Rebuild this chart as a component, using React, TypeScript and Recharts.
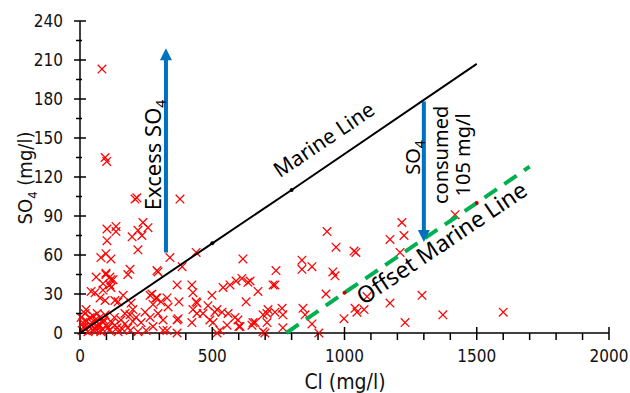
import React from 'react';
import {
  ScatterChart,
  Scatter,
  XAxis,
  YAxis,
  ReferenceLine,
  ReferenceDot,
  Label,
} from 'recharts';

// [Cl, SO4] in mg/l
const samples: [number, number][] = [
  [83, 203], [95, 135], [101, 132], [208, 103], [215, 104], [378, 103],
  [102, 80], [136, 82], [136, 78], [102, 71], [197, 74], [219, 79], [238, 85],
  [257, 81], [234, 75], [219, 64], [79, 58], [98, 61], [117, 57], [340, 58],
  [189, 49], [291, 48], [98, 46], [386, 51], [439, 62],
  [616, 57], [612, 42], [590, 40], [567, 37], [541, 35], [643, 40], [673, 32],
  [499, 29], [427, 31], [439, 24], [367, 37], [272, 30], [291, 27], [329, 27],
  [333, 20], [306, 24], [442, 15], [484, 21], [518, 18], [586, 12], [597, 10],
  [692, 14], [711, 18], [371, 11], [503, 8], [556, 6], [650, 6], [707, 8],
  [61, 43], [98, 45], [117, 41], [181, 45], [295, 47], [42, 32], [57, 31],
  [87, 33], [117, 35], [113, 37], [76, 27], [95, 25], [163, 29], [144, 24],
  [193, 23], [265, 29], [287, 27], [276, 22],
  [19, 15], [38, 12], [57, 10], [11, 8], [68, 5], [87, 8], [106, 4], [132, 6],
  [155, 10], [170, 15], [200, 18], [212, 12], [231, 8], [246, 16], [265, 12],
  [295, 15], [314, 10], [276, 5], [314, 2], [49, 2], [30, 1], [79, 1], [144, 1],
  [181, 4], [219, 1], [250, 2], [42, 6], [4, 12], [23, 18],
  [20, 3], [35, 5], [45, 8], [55, 4], [62, 2], [70, 7], [85, 3], [90, 10],
  [100, 6], [110, 2], [25, 9], [15, 5], [8, 2], [50, 13], [65, 15], [75, 12],
  [95, 14], [120, 8], [130, 12], [140, 4], [160, 3], [170, 7], [190, 2], [200, 9],
  [113, 43], [87, 38], [125, 41], [132, 25], [189, 14],
  [423, 37], [635, 39], [737, 37], [628, 24], [374, 24], [442, 23], [427, 18],
  [465, 15], [510, 16], [537, 16], [560, 15], [662, 8], [707, 15], [737, 16],
  [367, 10], [423, 8], [491, 10], [529, 2], [605, 5], [692, 1], [329, 2],
  [934, 78], [968, 66], [1036, 63], [1043, 62], [1217, 85], [1172, 72],
  [1225, 75], [839, 56], [839, 49], [877, 51], [741, 48], [730, 37], [956, 47],
  [964, 44], [930, 30], [1085, 28], [1172, 23], [1293, 29], [1040, 19],
  [1047, 16], [1074, 18], [998, 11], [1229, 8], [1372, 14], [764, 19], [767, 14],
  [843, 19], [851, 14], [877, 7], [767, 4], [699, 0], [654, 8],
  [1418, 91], [1600, 16], [903, 0], [518, 0], [367, 0], [601, 5], [1210, 62],
];

const marineLine = [
  { x: 0, y: 0 },
  { x: 500, y: 69 },
  { x: 800, y: 110 },
  { x: 1500, y: 207 },
];

const offsetLine = [
  { x: 780, y: 0 },
  { x: 1000, y: 31 },
  { x: 1500, y: 100 },
  { x: 1700, y: 128 },
];

const xTicks = [
  0, 100, 200, 300, 400, 500, 600, 700, 800, 900, 1000, 1100, 1200, 1300, 1400,
  1500, 1600, 1700, 1800, 1900, 2000,
];
const yTicks = [
  0, 15, 30, 45, 60, 75, 90, 105, 120, 135, 150, 165, 180, 195, 210, 225, 240,
];

// arrows: [x, from, to] in data units
const excessArrow = { x: 325, from: 62, to: 219 };
const consumedArrow = { x: 1300, from: 178, to: 70 };

const points = samples.map(([x, y]) => ({ x, y }));

const AXIS_FONT = '"DejaVu Sans Condensed", "DejaVu Sans", sans-serif';
const NOTE_FONT = '"Noto Sans", "Open Sans", sans-serif';
const BLUE = '#0070c0';

function Cross(props: any) {
  const { cx, cy } = props;
  const s = 4.3;
  return (
    <g stroke="#ff0000" strokeWidth={1.25}>
      <line x1={cx - s} y1={cy - s} x2={cx + s} y2={cy + s} />
      <line x1={cx - s} y1={cy + s} x2={cx + s} y2={cy - s} />
    </g>
  );
}

function LineDot(color: string) {
  return (props: any) => {
    const { cx, cy, index } = props;
    if (index === 0 || index === 3) return <g />;
    return <circle cx={cx} cy={cy} r={2} fill={color} />;
  };
}

function XTick(props: any) {
  const { x, y, payload } = props;
  const major = payload.value % 500 === 0;
  return (
    <g>
      <line x1={x} x2={x} y1={major ? y - 6 : y} y2={y + 7} stroke="#000" strokeWidth={1.5} />
      {major && (
        <text x={x} y={y + 29} textAnchor="middle" fontFamily={AXIS_FONT} fontSize={17} fill="#111">
          {payload.value}
        </text>
      )}
    </g>
  );
}

function YTick(props: any) {
  const { x, y, payload } = props;
  const major = payload.value % 30 === 0;
  return (
    <g>
      <line x1={major ? x - 6 : x - 4} x2={major ? x + 6 : x + 2} y1={y} y2={y} stroke="#000" strokeWidth={1.5} />
      {major && (
        <text x={x - 17} y={y + 6} textAnchor="end" fontFamily={AXIS_FONT} fontSize={17} fill="#111">
          {payload.value}
        </text>
      )}
    </g>
  );
}

function YTitle() {
  return (
    <text
      transform="translate(32, 178) rotate(-90)"
      textAnchor="middle"
      fontFamily={AXIS_FONT}
      fontSize={20}
      fill="#111"
    >
      SO<tspan fontSize={13} dy={5}>4</tspan>
      <tspan dy={-5}> (mg/l)</tspan>
    </text>
  );
}

function XTitle() {
  return (
    <text x={345} y={389} textAnchor="middle" fontFamily={AXIS_FONT} fontSize={21} fill="#111">
      Cl (mg/l)
    </text>
  );
}

function UpHead(props: any) {
  const { cx, cy } = props;
  return <polygon points={`${cx},${cy} ${cx - 6},${cy + 12} ${cx + 6},${cy + 12}`} fill={BLUE} />;
}

function DownHead(props: any) {
  const { cx, cy } = props;
  return <polygon points={`${cx},${cy} ${cx - 6},${cy - 12} ${cx + 6},${cy - 12}`} fill={BLUE} />;
}

function Note(text: React.ReactNode, angle: number, size: number) {
  return (props: any) => {
    const { cx, cy } = props;
    return (
      <text
        transform={`translate(${cx}, ${cy}) rotate(${angle})`}
        textAnchor="middle"
        fontFamily={NOTE_FONT}
        fontSize={size}
        fill="#000"
      >
        {text}
      </text>
    );
  };
}

const so4Sub = (
  <>
    SO<tspan fontSize={14} dy={5}>4</tspan>
  </>
);

export default function App() {
  return (
    <div style={{ position: 'absolute', left: 0, top: 0, background: '#fff' }}>
      <ScatterChart width={630} height={393} margin={{ top: 21, right: 21, left: 0, bottom: 0 }}>
        <XAxis
          type="number"
          dataKey="x"
          domain={[0, 2000]}
          ticks={xTicks}
          interval={0}
          tickSize={0}
          tickMargin={0}
          tickLine={false}
          tick={<XTick />}
          axisLine={{ stroke: '#000', strokeWidth: 1.5 }}
          height={60}
        >
          <Label content={<XTitle />} />
        </XAxis>
        <YAxis
          type="number"
          dataKey="y"
          domain={[0, 240]}
          ticks={yTicks}
          interval={0}
          tickSize={0}
          tickMargin={0}
          tickLine={false}
          tick={<YTick />}
          axisLine={{ stroke: '#000', strokeWidth: 1.5 }}
          width={80}
        >
          <Label content={<YTitle />} />
        </YAxis>
        <Scatter data={points} shape={<Cross />} isAnimationActive={false} />
        <Scatter
          data={offsetLine}
          line={{ stroke: '#00b050', strokeWidth: 4, strokeDasharray: '15 9' }}
          shape={LineDot('#c00000')}
          isAnimationActive={false}
        />
        <Scatter
          data={marineLine}
          line={{ stroke: '#000', strokeWidth: 2 }}
          shape={LineDot('#000')}
          isAnimationActive={false}
        />
        <ReferenceLine
          segment={[
            { x: excessArrow.x, y: excessArrow.from },
            { x: excessArrow.x, y: excessArrow.to - 8 },
          ]}
          stroke={BLUE}
          strokeWidth={4}
        />
        <ReferenceDot x={excessArrow.x} y={excessArrow.to} shape={<UpHead />} />
        <ReferenceLine
          segment={[
            { x: consumedArrow.x, y: consumedArrow.from },
            { x: consumedArrow.x, y: consumedArrow.to + 8 },
          ]}
          stroke={BLUE}
          strokeWidth={4}
        />
        <ReferenceDot x={consumedArrow.x} y={consumedArrow.to} shape={<DownHead />} />
        <ReferenceDot x={306} y={137} shape={Note(<>Excess {so4Sub}</>, -90, 22)} />
        <ReferenceDot x={938} y={144} shape={Note('Marine Line', -34, 21)} />
        <ReferenceDot x={1385} y={64} shape={Note('Offset Marine Line', -34, 23)} />
        <ReferenceDot x={1285} y={135} shape={Note(so4Sub, -90, 20)} />
        <ReferenceDot x={1391} y={137} shape={Note('consumed', -90, 20)} />
        <ReferenceDot x={1474} y={137} shape={Note('105 mg/l', -90, 20)} />
      </ScatterChart>
    </div>
  );
}
